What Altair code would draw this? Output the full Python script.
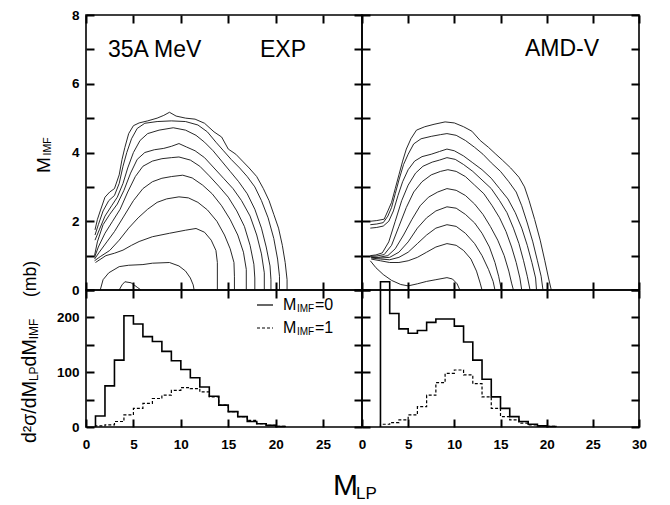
import altair as alt
import pandas as pd

FONT = "Liberation Sans"

# ---------------- data ----------------
# EXP contour lines: (M_LP, M_IMF), outermost first
exp_c1 = [(0.95,1.75),(1.2,2.05),(1.5,2.3),(2.0,2.7),(2.5,2.85),(3.0,2.95),(3.5,3.35),(3.8,3.8),(4.1,4.15),(4.5,4.55),(5.0,4.78),(5.6,4.86),(6.5,4.92),(7.5,5.0),(8.2,5.08),(8.8,5.17),(9.5,5.06),(10.5,5.0),(11.5,4.97),(12.5,4.85),(13.5,4.6),(14.3,4.45),(15.0,4.1),(15.8,3.95),(16.5,3.75),(17.2,3.55),(18.0,3.3),(18.7,2.95),(19.3,2.6),(19.8,2.2),(20.3,1.8),(20.7,1.3),(21.0,0.8),(21.2,0.3),(21.2,0.0)]
exp_c2 = [(0.95,1.6),(1.3,1.9),(1.8,2.3),(2.4,2.6),(3.0,2.75),(3.5,3.1),(3.9,3.6),(4.3,4.0),(4.8,4.4),(5.4,4.7),(6.2,4.85),(7.5,4.9),(9.0,4.92),(10.5,4.9),(11.8,4.8),(12.8,4.6),(13.7,4.3),(14.5,4.05),(15.3,3.8),(16.2,3.55),(17.0,3.3),(17.8,3.0),(18.5,2.6),(19.2,2.1),(19.8,1.5),(20.2,0.9),(20.4,0.4),(20.4,0.0)]
exp_c3 = [(0.95,1.45),(1.4,1.75),(2.0,2.15),(2.7,2.45),(3.3,2.7),(3.9,3.1),(4.4,3.55),(5.0,4.0),(5.7,4.35),(6.5,4.55),(7.7,4.65),(9.2,4.72),(10.5,4.65),(11.6,4.5),(12.5,4.3),(13.4,4.05),(14.3,3.75),(15.2,3.45),(16.1,3.15),(17.0,2.8),(17.8,2.35),(18.5,1.8),(19.0,1.25),(19.4,0.7),(19.5,0.3),(19.5,0.0)]
exp_c4 = [(0.9,1.0),(1.2,1.4),(1.8,1.9),(2.5,2.2),(3.3,2.5),(4.0,2.9),(4.7,3.4),(5.4,3.8),(6.2,4.0),(7.2,4.08),(8.2,4.12),(9.0,4.18),(9.8,4.26),(10.6,4.16),(11.5,4.05),(12.5,3.85),(13.5,3.55),(14.5,3.25),(15.5,2.95),(16.4,2.6),(17.3,2.15),(18.0,1.6),(18.5,1.05),(18.8,0.5),(18.8,0.0)]
exp_c5 = [(0.9,0.95),(1.3,1.25),(2.0,1.65),(2.8,2.0),(3.6,2.35),(4.4,2.85),(5.2,3.3),(6.0,3.6),(7.0,3.75),(8.0,3.82),(9.0,3.85),(9.8,3.87),(11.0,3.78),(12.0,3.6),(13.0,3.32),(14.0,3.02),(15.0,2.7),(15.9,2.3),(16.7,1.85),(17.3,1.3),(17.7,0.75),(17.8,0.35),(17.8,0.0)]
exp_c6 = [(0.9,0.9),(1.4,1.1),(2.2,1.4),(3.0,1.7),(4.0,2.15),(5.0,2.6),(6.0,2.95),(7.0,3.15),(8.0,3.25),(9.0,3.3),(10.2,3.34),(11.2,3.26),(12.3,3.05),(13.3,2.8),(14.3,2.45),(15.2,2.05),(16.0,1.6),(16.6,1.1),(16.9,0.6),(16.9,0.0)]
exp_c7 = [(0.9,0.85),(1.5,0.97),(2.5,1.15),(3.5,1.45),(4.5,1.8),(5.5,2.1),(6.5,2.35),(7.5,2.55),(8.5,2.65),(9.8,2.71),(10.8,2.68),(11.8,2.55),(12.8,2.33),(13.8,2.0),(14.6,1.6),(15.2,1.2),(15.6,0.8),(15.65,0.4),(15.65,0.0)]
exp_c8 = [(1.0,0.8),(2.1,1.0),(3.0,1.07),(3.9,1.16),(4.8,1.3),(5.6,1.41),(7.0,1.55),(8.8,1.65),(10.5,1.74),(11.6,1.79),(12.5,1.68),(13.2,1.45),(13.7,1.15),(13.85,0.8),(13.85,0.0)]
exp_c9 = [(1.5,0.0),(1.8,0.3),(2.4,0.5),(3.5,0.68),(4.5,0.72),(6.0,0.74),(7.0,0.78),(8.8,0.8),(9.8,0.7),(10.5,0.55),(11.0,0.35),(11.3,0.15),(11.4,0.0)]
exp_c10 = [(3.5,0.0),(3.8,0.15),(4.1,0.24),(4.75,0.21),(5.4,0.08),(5.8,0.0)]

# AMD-V contour lines
amd_c1 = [(0.9,2.0),(1.6,2.02),(2.4,2.06),(2.8,2.3),(3.2,2.55),(3.6,2.95),(4.0,3.35),(4.4,3.75),(4.8,4.1),(5.3,4.4),(5.9,4.65),(6.8,4.75),(7.8,4.82),(9.0,4.89),(10.0,4.86),(11.0,4.75),(11.9,4.62),(12.8,4.35),(13.7,4.15),(14.5,3.95),(15.2,3.78),(16.1,3.55),(17.0,3.28),(17.6,3.0),(18.1,2.6),(18.7,2.05),(19.3,1.45),(19.8,0.85),(20.2,0.35),(20.5,0.0)]
amd_c2 = [(0.9,1.9),(1.6,1.92),(2.3,1.96),(2.8,2.15),(3.2,2.4),(3.6,2.8),(4.0,3.2),(4.5,3.65),(5.0,3.95),(5.6,4.25),(6.4,4.4),(7.5,4.47),(8.5,4.52),(9.2,4.55),(10.2,4.5),(11.2,4.35),(12.2,4.15),(13.1,3.95),(14.0,3.7),(15.0,3.45),(15.9,3.15),(16.7,2.85),(17.3,2.45),(17.9,1.95),(18.5,1.4),(19.0,0.85),(19.4,0.4),(19.6,0.0)]
amd_c3 = [(0.9,1.8),(1.6,1.82),(2.3,1.86),(2.9,2.0),(3.4,2.3),(3.9,2.75),(4.4,3.15),(5.0,3.5),(5.7,3.75),(6.5,3.88),(7.5,3.95),(8.4,4.03),(9.2,4.1),(10.0,4.05),(11.0,3.9),(12.0,3.7),(13.0,3.5),(14.0,3.25),(14.9,2.95),(15.8,2.65),(16.6,2.25),(17.3,1.8),(17.9,1.3),(18.4,0.8),(18.8,0.35),(18.9,0.0)]
amd_c4 = [(0.9,1.0),(1.5,1.02),(2.2,1.08),(2.9,1.4),(3.6,2.0),(4.3,2.6),(5.0,3.05),(5.8,3.4),(6.6,3.6),(7.6,3.72),(8.4,3.78),(9.2,3.85),(10.1,3.8),(11.0,3.65),(12.0,3.45),(13.0,3.2),(14.0,2.95),(14.9,2.6),(15.7,2.25),(16.4,1.8),(17.0,1.35),(17.5,0.85),(17.9,0.4),(18.2,0.0)]
amd_c5 = [(0.9,0.98),(1.6,0.99),(2.4,1.03),(3.2,1.3),(4.0,1.85),(4.8,2.4),(5.6,2.85),(6.5,3.15),(7.5,3.35),(8.5,3.45),(9.3,3.5),(10.2,3.45),(11.2,3.3),(12.2,3.05),(13.2,2.8),(14.1,2.45),(14.9,2.1),(15.6,1.7),(16.2,1.25),(16.7,0.8),(17.1,0.35),(17.3,0.0)]
amd_c6 = [(0.95,0.96),(1.8,0.95),(2.8,1.0),(3.6,1.2),(4.5,1.6),(5.4,2.05),(6.3,2.45),(7.2,2.7),(8.2,2.85),(9.2,2.95),(10.2,2.9),(11.2,2.75),(12.2,2.5),(13.1,2.2),(13.9,1.85),(14.7,1.45),(15.4,1.0),(15.9,0.55),(16.2,0.2),(16.4,0.0)]
amd_c7 = [(1.0,0.95),(2.0,0.93),(3.0,0.95),(4.0,1.1),(5.0,1.4),(6.0,1.8),(7.0,2.1),(8.0,2.3),(9.2,2.42),(10.2,2.38),(11.2,2.2),(12.2,1.95),(13.0,1.65),(13.8,1.25),(14.4,0.8),(14.8,0.4),(15.1,0.0)]
amd_c8 = [(1.0,0.93),(2.0,0.9),(3.0,0.88),(4.0,0.95),(5.0,1.1),(6.0,1.35),(7.0,1.6),(8.0,1.8),(9.2,1.9),(10.2,1.85),(11.2,1.65),(12.2,1.35),(13.0,1.0),(13.7,0.6),(14.2,0.25),(14.4,0.0)]
amd_c9 = [(1.0,0.9),(2.0,0.85),(3.0,0.8),(4.0,0.8),(5.0,0.85),(6.0,0.95),(7.0,1.1),(8.0,1.25),(9.2,1.35),(10.2,1.3),(11.0,1.15),(11.8,0.9),(12.4,0.55),(12.8,0.2),(13.0,0.0)]
amd_c10 = [(0.9,0.85),(1.5,0.65),(2.3,0.45),(3.2,0.28),(4.2,0.16),(5.0,0.12),(6.0,0.18),(7.0,0.25),(8.0,0.3),(9.2,0.36),(9.8,0.32),(10.3,0.18),(10.6,0.0)]

# histograms d2sigma/dM_LP dM_IMF (mb), unit bins
exp_edges = list(range(1, 22))
exp_m0 = [20, 75, 122, 203, 188, 165, 156, 138, 121, 105, 90, 73, 56, 40, 28, 19, 10, 6, 3, 1]
exp_m1 = [2, 4, 10, 22, 34, 43, 52, 58, 67, 72, 70, 64, 55, 40, 28, 19, 12, 6, 3, 1]
amd_edges = list(range(2, 22))
amd_m0 = [265, 207, 179, 171, 176, 191, 197, 197, 184, 155, 122, 87, 55, 34, 19, 10, 5, 2, 1]
amd_m1 = [5, 8, 13, 22, 37, 58, 81, 98, 104, 95, 79, 55, 34, 19, 13, 7, 4, 2, 1]

# axis ticks / labels
x_vals_left = [0, 5, 10, 15, 20, 25]
x_vals_right = [0, 5, 10, 15, 20, 25, 30]
y_top_vals = [0, 1, 2, 3, 4, 5, 6, 7, 8]
y_bot_vals = [0, 50, 100, 150, 200, 250]

# ---------------- helpers ----------------
WL, WR, HT, HB = 276, 277, 275, 137
XL_DOM, XR_DOM, YT_DOM, YB_DOM = [0, 29.1], [0, 30], [0, 8], [0, 250]
xL = alt.Scale(domain=XL_DOM, nice=False, zero=False)
xR = alt.Scale(domain=XR_DOM, nice=False, zero=False)
yT = alt.Scale(domain=YT_DOM, nice=False, zero=False)
yB = alt.Scale(domain=YB_DOM, nice=False, zero=False)

TOP_EXPR = "datum.value % 2 == 0 ? datum.label : ''"
BOT_EXPR = "(datum.value % 100 == 0 && datum.value < 250) ? datum.label : ''"

def fax(values, orient, labels=False, pad=7, expr=None, tick=8):
    """Axis whose ticks point into the plot (offset inward by the tick length)."""
    kw = dict(values=values, orient=orient, title=None, domain=False, grid=False,
              ticks=True, tickSize=tick, offset=-tick, tickColor="black", tickWidth=2,
              tickOpacity=1, labels=labels, labelPadding=pad, labelFont=FONT, labelFontSize=13.5,
              labelFontWeight="bold", labelColor="black", labelFlush=False, zindex=1)
    if expr:
        kw["labelExpr"] = expr
    return alt.Axis(**kw)

def contour_layer(contours, xs, ys, xax, yax):
    rows = []
    for k, c in enumerate(contours):
        for i, (x, y) in enumerate(c):
            rows.append({"c": k, "i": i, "x": x, "y": y})
    return alt.Chart(pd.DataFrame(rows)).mark_line(color="#111", strokeWidth=0.9).encode(
        x=alt.X("x:Q", scale=xs, axis=xax), y=alt.Y("y:Q", scale=ys, axis=yax),
        detail="c:N", order="i:Q")

def step_layer(edges, vals, xs, ys, xax, yax, dash=None, sw=1.6):
    px = [edges[0]] + edges[:-1] + [edges[-1]]
    py = [0] + vals + [0]
    df = pd.DataFrame({"i": list(range(len(px))), "x": px, "y": py})
    kw = dict(color="black", strokeWidth=sw, interpolate="step-after")
    if dash:
        kw["strokeDash"] = dash
    return alt.Chart(df).mark_line(**kw).encode(
        x=alt.X("x:Q", scale=xs, axis=xax), y=alt.Y("y:Q", scale=ys, axis=yax),
        order="i:Q")

def frame_layer(xdom, ydom, xs, ys, xvals, yvals):
    """Invisible layer carrying the top and right axes (ticks only)."""
    df = pd.DataFrame({"x": [xdom[0]], "y": [ydom[0]]})
    return alt.Chart(df).mark_point(opacity=0).encode(
        x=alt.X("x:Q", scale=xs, axis=fax(xvals, "top")),
        y=alt.Y("y:Q", scale=ys, axis=fax(yvals, "right")))

ONE = pd.DataFrame({"a": [0]})

def txt(s, x, y, size, angle=0):
    kw = dict(text=s, font=FONT, fontSize=size, align="left", baseline="alphabetic", color="black")
    if angle:
        kw["angle"] = angle
    return alt.Chart(ONE).mark_text(**kw).encode(x=alt.value(x), y=alt.value(y))

def seg(x0, x1, y, dash=None):
    kw = dict(color="black", strokeWidth=1.2)
    if dash:
        kw["strokeDash"] = dash
    return alt.Chart(ONE).mark_rule(**kw).encode(x=alt.value(x0), x2=alt.value(x1), y=alt.value(y))

# ---------------- panels ----------------
tl_x = fax(x_vals_left, "bottom")
tl_y = fax(y_top_vals, "left", labels=True, pad=7, expr=TOP_EXPR)
tr_x = fax(x_vals_right, "bottom")
tr_y = fax(y_top_vals, "left")
bl_x = fax(x_vals_left, "bottom", labels=True, pad=10)
bl_y = fax(y_bot_vals, "left", labels=True, pad=7, expr=BOT_EXPR)
br_x = fax(x_vals_right, "bottom", labels=True, pad=10)
br_y = fax(y_bot_vals, "left")

top_left = alt.layer(
    contour_layer([exp_c1, exp_c2, exp_c3, exp_c4, exp_c5, exp_c6, exp_c7, exp_c8, exp_c9, exp_c10], xL, yT, tl_x, tl_y),
    frame_layer(XL_DOM, YT_DOM, xL, yT, x_vals_left, y_top_vals),
    txt("35A  MeV", 22, 42, 23), txt("EXP", 174, 42, 23),
    txt("M", -36, 158, 19, 270), txt("IMF", -35, 140.5, 10.5, 270),
).resolve_axis(x="independent", y="independent").properties(width=WL, height=HT)

top_right = alt.layer(
    contour_layer([amd_c1, amd_c2, amd_c3, amd_c4, amd_c5, amd_c6, amd_c7, amd_c8, amd_c9, amd_c10], xR, yT, tr_x, tr_y),
    frame_layer(XR_DOM, YT_DOM, xR, yT, x_vals_right, y_top_vals),
    txt("AMD-V", 163, 41, 23),
).resolve_axis(x="independent", y="independent").properties(width=WR, height=HT)

bot_left = alt.layer(
    step_layer(exp_edges, exp_m0, xL, yB, bl_x, bl_y),
    step_layer(exp_edges, exp_m1, xL, yB, None, None, dash=[3, 2], sw=1.2),
    frame_layer(XL_DOM, YB_DOM, xL, yB, x_vals_left, y_bot_vals),
    seg(171, 187, 15), seg(171, 187, 38, dash=[3, 2]),
    txt("M", 197, 20, 16), txt("IMF", 211, 21.5, 10), txt("=0", 229, 20, 16),
    txt("M", 197, 43, 16), txt("IMF", 211, 44.5, 10), txt("=1", 229, 43, 16),
    txt("d²σ/dM", -50, 153, 19.5, 270), txt("LP", -48, 91.1, 12, 270),
    txt("dM", -50, 76.4, 19.5, 270), txt("IMF", -48, 49.3, 12, 270),
    txt("(mb)", -50, 7, 17.5, 270),
).resolve_axis(x="independent", y="independent").properties(width=WL, height=HB)

bot_right = alt.layer(
    step_layer(amd_edges, amd_m0, xR, yB, br_x, br_y),
    step_layer(amd_edges, amd_m1, xR, yB, None, None, dash=[3, 2], sw=1.2),
    frame_layer(XR_DOM, YB_DOM, xR, yB, x_vals_right, y_bot_vals),
    txt("M", -29, 205, 30), txt("LP", -6, 209, 17),
).resolve_axis(x="independent", y="independent").properties(width=WR, height=HB)

chart = alt.concat(top_left, top_right, bot_left, bot_right, columns=2,
                   spacing=0, bounds="flush").configure_view(
    stroke="black", strokeWidth=1.6
).properties(padding={"left": 19, "top": 7, "right": 5, "bottom": 2})

chart.save("out.html", embed_options={"renderer": "svg", "actions": False})
